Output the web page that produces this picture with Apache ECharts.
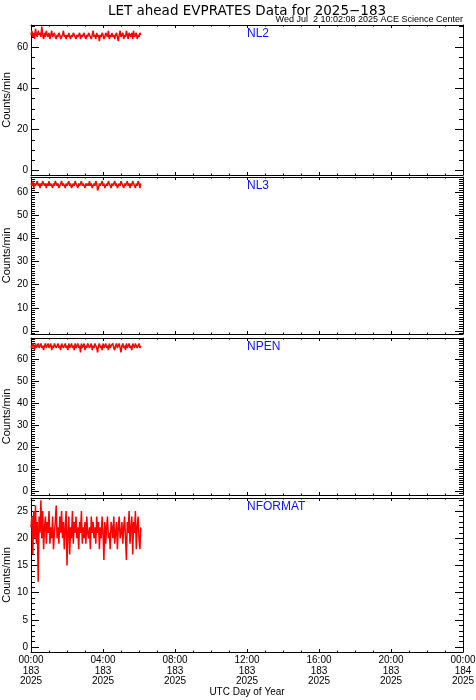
<!DOCTYPE html>
<html><head><meta charset="utf-8">
<script src="https://cdn.jsdelivr.net/npm/echarts@6/dist/echarts.min.js"></script>
<style>html,body{margin:0;padding:0;background:#fff}#c{width:476px;height:700px}</style>
</head><body><div id="c"></div>
<script>
const titleText = 'LET ahead EVPRATES Data for 2025\u2212183';
const stampText = 'Wed Jul  2 10:02:08 2025 ACE Science Center';
const panelNames = ['NL2', 'NL3', 'NPEN', 'NFORMAT'];
const yAxisTitle = 'Counts/min';
const xAxisTitle = 'UTC Day of Year';

// time base of the samples (hours of day 183)
const startHour = 0;
const stepMinutes = 3;

const nl2 = [66,68,65,67,64,69,66,65,68,66,
  67,65,70,66,64,67,65,68,66,65,
  67,64,66,68,65,66,67,65,64,66,
  65,67,66,64,65,66,68,65,66,64,
  66,65,67,65,64,66,65,67,66,65,
  64,66,65,65,67,64,66,65,66,67,
  65,64,66,65,67,66,65,64,66,68,
  65,66,64,67,65,66,63,66,65,67,
  66,64,65,67,66,65,68,64,66,65,
  67,65,66,64,66,67,65,63,66,68,
  65,66,67,64,66,65,68,66,64,67,
  66,65,67,64,68,65,66,67,64,66,
  65,67,66];
const nl3 = [64,63,65,62,64,63,64,65,63,64,
  62,64,63,65,64,63,64,62,64,63,
  65,63,64,63,62,64,63,65,64,63,
  64,62,63,64,65,63,64,63,62,64,
  63,64,65,63,64,62,63,64,63,65,
  64,63,62,64,63,64,65,63,64,63,
  62,64,63,64,63,65,63,64,62,63,
  64,63,65,64,61,62,64,63,64,65,
  63,64,62,63,64,63,65,64,63,62,
  64,63,64,65,63,64,62,63,64,63,
  65,64,63,62,64,63,64,65,63,64,
  62,64,63,65,64,63,62,64,63,65,
  64,62,64];
const npen = [66,65,67,66,64,67,65,66,67,65,
  66,67,65,66,64,66,67,65,66,67,
  65,66,67,64,66,65,67,66,65,66,
  67,65,66,64,67,66,65,66,67,65,
  66,64,67,65,66,67,65,66,64,67,
  65,66,67,65,66,63,67,65,66,67,
  64,66,65,67,66,65,66,67,64,66,
  65,67,66,65,63,66,67,65,66,64,
  67,65,66,67,65,66,64,67,65,66,
  66,67,65,64,66,67,65,66,67,65,
  63,66,67,65,66,64,67,65,66,67,
  65,66,64,67,66,65,67,66,65,66,
  67,65,66];
const nformat = [22,24,17,25,20,26,19,23,12,24,
  21,27,20,25,18,22,24,19,23,21,
  25,19,22,20,24,18,21,23,26,20,
  22,19,24,21,25,20,23,18,22,25,
  15,21,24,17,22,20,25,19,23,21,
  24,20,22,18,23,21,25,19,22,20,
  23,19,24,21,20,22,18,24,21,23,
  20,22,19,24,21,23,18,22,20,24,
  21,16,23,19,22,24,20,21,18,23,
  22,20,24,19,21,23,18,22,24,20,
  21,23,19,22,24,20,16,23,21,25,
  19,22,24,17,23,21,25,18,22,24,
  20,18,22];

const xTickHours = [0, 4, 8, 12, 16, 20, 24];
const xTickLabels = ['00:00\n183\n2025', '04:00\n183\n2025', '08:00\n183\n2025', '12:00\n183\n2025',
  '16:00\n183\n2025', '20:00\n183\n2025', '00:00\n184\n2025'];

const yMajors = [[0, 20, 40, 60], [0, 10, 20, 30, 40, 50, 60], [0, 10, 20, 30, 40, 50, 60], [0, 5, 10, 15, 20, 25]];
const yMinorStep = [5, 1, 1, 1];
const yRanges = [[-2.1, 70.8], [-1.4, 66.8], [-1.7, 69.5], [-0.9, 27.4]];

const seriesValues = [nl2, nl3, npen, nformat];

// layout
const FONT = 'Liberation Sans, Arial, Helvetica, sans-serif';
const gridBoxes = [{top: 25, height: 150}, {top: 177, height: 157}, {top: 338, height: 157}, {top: 498, height: 154}];
const plotLeft = 31, plotRight = 13;

function minorValues(i) {
  const out = [];
  const [lo, hi] = yRanges[i];
  const st = yMinorStep[i];
  for (let v = Math.ceil(lo / st) * st; v <= hi + 1e-9; v += st) {
    if (yMajors[i].indexOf(v) < 0) out.push(v);
  }
  return out;
}

const grids = [], xAxes = [], yAxes = [], series = [], graphics = [];
const black = {color: '#000', width: 1};

gridBoxes.forEach((g, i) => {
  grids.push({left: plotLeft, right: plotRight, top: g.top, height: g.height, show: false,
    containLabel: false, outerBoundsMode: 'none'});
  const isLast = i === gridBoxes.length - 1;
  ['bottom', 'top'].forEach(pos => {
    xAxes.push({
      gridIndex: i, type: 'value', position: pos, min: 0, max: 24, interval: 4,
      axisLine: {show: true, onZero: false, lineStyle: black},
      axisTick: {show: true, inside: true, length: 3, lineStyle: black},
      minorTick: {show: true, splitNumber: 4, length: 1.5, lineStyle: black},
      splitLine: {show: false}, minorSplitLine: {show: false},
      axisLabel: {
        show: isLast && pos === 'bottom', margin: 3, color: '#000', fontFamily: FONT, fontSize: 10, lineHeight: 10.5,
        hideOverlap: false,
        formatter: v => { const k = xTickHours.indexOf(v); return k >= 0 ? xTickLabels[k] : ''; }
      },
      name: isLast && pos === 'bottom' ? xAxisTitle : '',
      nameLocation: 'middle', nameGap: 35, nameMoveOverlap: false,
      nameTextStyle: {color: '#000', fontFamily: FONT, fontSize: 10}
    });
  });
  const base = yAxes.length;
  const [lo, hi] = yRanges[i];
  const minors = minorValues(i);
  ['left', 'right'].forEach(pos => {
    yAxes.push({
      gridIndex: i, type: 'value', position: pos, min: lo, max: hi,
      axisLine: {show: true, onZero: false, lineStyle: black},
      axisTick: {show: true, inside: true, length: 8, lineStyle: black, customValues: yMajors[i]},
      axisLabel: {show: pos === 'left', customValues: yMajors[i], margin: 3, color: '#000', fontFamily: FONT, fontSize: 10},
      splitLine: {show: false},
      name: pos === 'left' ? yAxisTitle : '', nameLocation: 'middle', nameGap: 19, nameMoveOverlap: false,
      nameTextStyle: {color: '#000', fontFamily: FONT, fontSize: 11}
    });
    yAxes.push({
      gridIndex: i, type: 'value', position: pos, min: lo, max: hi,
      axisLine: {show: false, onZero: false},
      axisTick: {show: true, inside: true, length: 4, lineStyle: black, customValues: minors},
      axisLabel: {show: false},
      splitLine: {show: false}
    });
  });
  const vals = seriesValues[i];
  series.push({
    type: 'line', xAxisIndex: i * 2, yAxisIndex: base,
    data: vals.map((v, k) => [startHour + k * stepMinutes / 60, v]),
    showSymbol: false, symbol: 'none', clip: true,
    lineStyle: {color: '#ff0000', width: 1.5}, itemStyle: {color: '#ff0000'}
  });
  graphics.push({
    type: 'text', left: 247, top: g.top + 3,
    style: {text: panelNames[i], fill: '#1010ff', font: '12px ' + FONT, textAlign: 'center'}
  });
});

graphics.push({type: 'text', x: 247, y: 11, style: {text: titleText, fill: '#000', font: '13.5px DejaVu Sans, sans-serif', textAlign: 'center', textVerticalAlign: 'middle'}});
graphics.push({type: 'text', x: 463, y: 20, style: {text: stampText, fill: '#000', font: '9px ' + FONT, textAlign: 'right', textVerticalAlign: 'middle'}});

const chart = echarts.init(document.getElementById('c'), null, {renderer: 'canvas'});
chart.setOption({
  animation: false,
  backgroundColor: '#fff',
  grid: grids, xAxis: xAxes, yAxis: yAxes, series: series, graphic: graphics
});
</script></body></html>
